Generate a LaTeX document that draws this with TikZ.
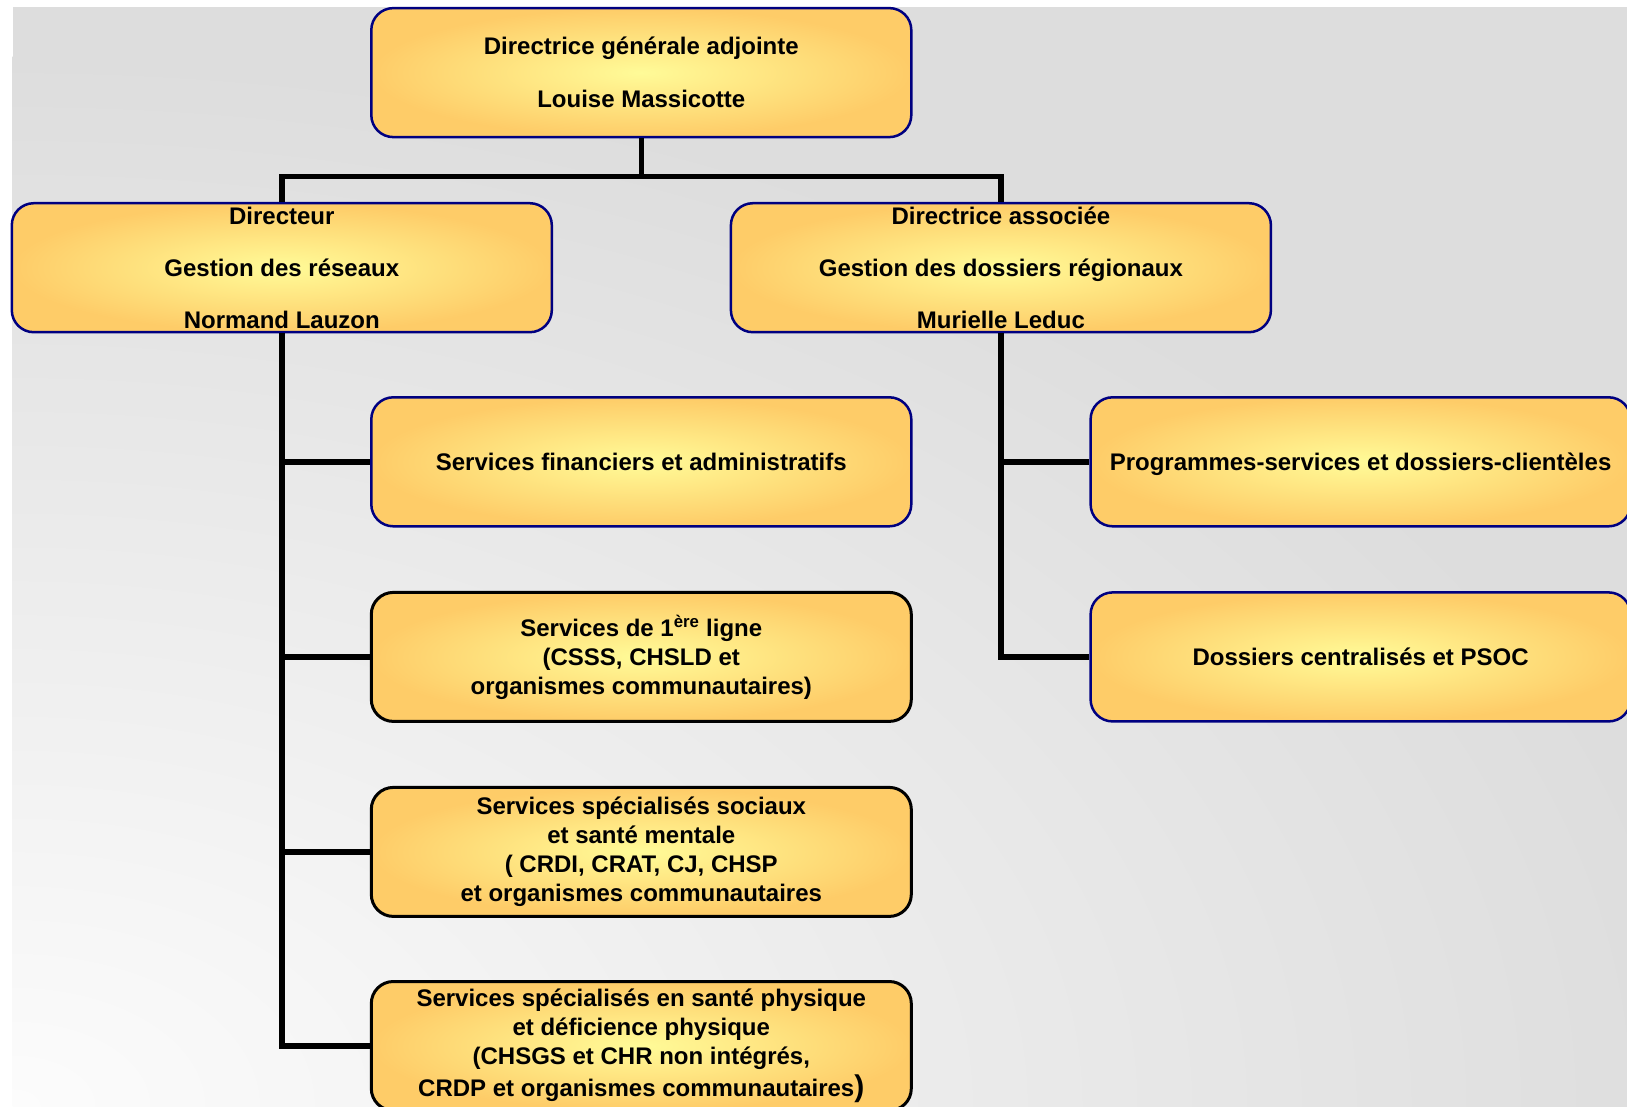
\documentclass[tikz,border=0pt]{standalone}
\usepackage{fontspec}
\setmainfont{Liberation Sans}
\definecolor{bggrey}{HTML}{DDDDDD}
\definecolor{bgwhite}{HTML}{FCFCFC}
\definecolor{boxin}{HTML}{FFFB98}
\definecolor{boxout}{HTML}{FECC68}
\definecolor{bordblue}{HTML}{000080}
\tikzset{
  orgbox/.style={rectangle, rounded corners=22pt, minimum width=540pt, minimum height=129pt,
    inner color=boxin, outer color=boxout, draw=bordblue, line width=2.5pt,
    align=center, font=\fontsize{24}{29}\selectfont\bfseries, inner sep=0pt},
  blackbox/.style={orgbox, draw=black, line width=3pt},
  conn/.style={line width=5.5pt, draw=black},
}
\begin{document}
\begin{tikzpicture}[x=1pt,y=-1pt]
\useasboundingbox (0,0) rectangle (1627,1106);
\clip (0,0) rectangle (1627,1106);
% background
\fill[white] (0,0) rectangle (1627,1106);
\fill[bggrey] (12.5,7.3) rectangle (1627,1106);
\begin{scope}
  \clip (12.5,7.3) rectangle (1627,1106);
  \shade[inner color=bgwhite, outer color=bggrey] (12.5,1106) ellipse [x radius=1700, y radius=1050];
\end{scope}
% nodes
\node[orgbox] (top) at (641.3,72.6) {Directrice générale adjointe\\[24pt]Louise Massicotte};
\node[orgbox] (dl) at (281.8,267.7) {Directeur\\[23pt]Gestion des réseaux\\[23pt]Normand Lauzon};
\node[orgbox] (dr) at (1000.9,267.7) {Directrice associée\\[23pt]Gestion des dossiers régionaux\\[23pt]Murielle Leduc};
\node[orgbox] (c1) at (641.3,461.8) {Services financiers et administratifs};
\node[blackbox] (c2) at (641.3,656.9) {Services de 1\textsuperscript{ère} ligne\\(CSSS, CHSLD et\\organismes communautaires)};
\node[blackbox] (c3) at (641.3,851.9) {Services spécialisés sociaux\\et santé mentale\\( CRDI, CRAT, CJ, CHSP\\et organismes communautaires};
\node[blackbox] (c4) at (641.3,1046) {Services spécialisés en santé physique\\et déficience physique\\(CHSGS et CHR non intégrés,\\[3pt]CRDP et organismes communautaires{\fontsize{30}{30}\selectfont)}};
\node[orgbox] (r1) at (1360.6,461.8) {\raisebox{0pt}[\height][0pt]{Programmes-services et dossiers-clientèles}};
\node[orgbox] (r2) at (1360.6,656.9) {Dossiers centralisés et PSOC};
% connectors
\coordinate (bus) at (641.3,176.4);
\draw[conn] (top.south) -- (bus);
\draw[conn] (dl.north) |- (bus) -| (dr.north);
\draw[conn] (dl.south) |- (c4.west);
\draw[conn] (dl.south |- c1.west) -- (c1.west);
\draw[conn] (dl.south |- c2.west) -- (c2.west);
\draw[conn] (dl.south |- c3.west) -- (c3.west);
\draw[conn] (dr.south) |- (r2.west);
\draw[conn] (dr.south |- r1.west) -- (r1.west);
\end{tikzpicture}
\end{document}
